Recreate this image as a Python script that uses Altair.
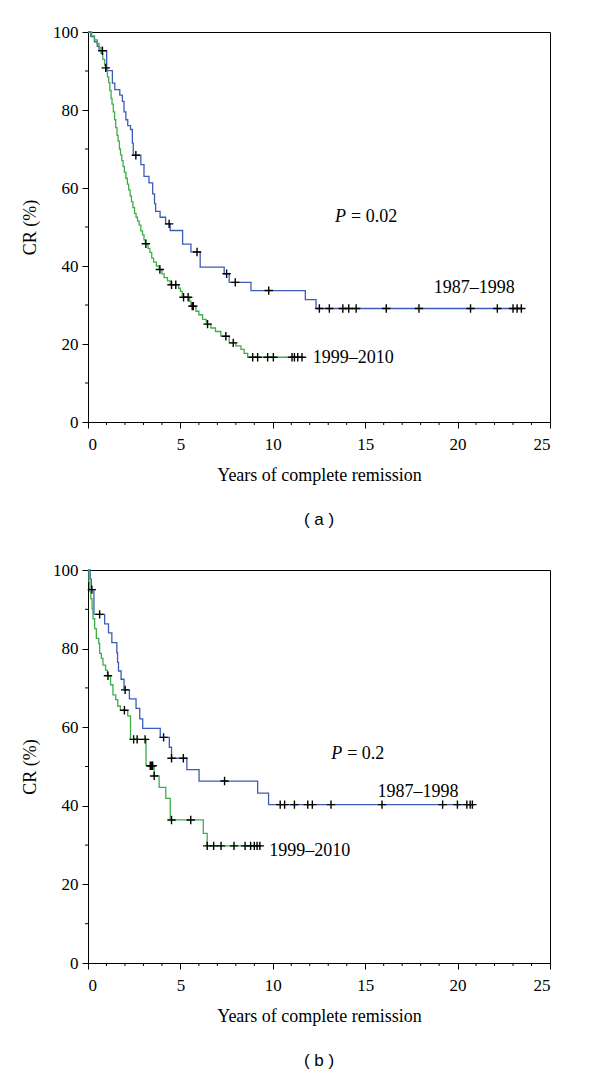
import altair as alt
import pandas as pd

BLUE = "#3e5bb8"
GREEN = "#3fae49"
SERIES = ["1987–1998", "1999–2010"]

# ---------------- Panel (a) ----------------
a_blue_t = [0, 0.15, 0.35, 0.5, 0.6, 1.01, 1.32, 1.45, 1.72, 1.86, 1.95, 2.05, 2.15, 2.3, 2.4, 2.45,
            2.86, 3.03, 3.3, 3.5, 3.6, 3.66, 3.9, 4.2, 4.45, 5.12, 5.57, 6.07, 7.37, 7.64, 8.82,
            11.76, 12.34, 23.45]
a_blue_s = [100, 98.8, 97.5, 96.3, 95.2, 90.1, 86.9, 85.2, 83.8, 82.2, 79.5, 77.5, 76, 75, 71.5, 68.4,
            66, 63, 61.3, 58.5, 56, 54, 52.5, 50.8, 49.1, 45.6, 43.6, 39.7, 38, 35.8, 33.7,
            31.4, 29.1, 29.1]
a_green_t = [0, 0.2, 0.35, 0.5, 0.6, 0.7, 0.8, 0.9, 0.95, 1.05, 1.12, 1.18, 1.25, 1.3, 1.37, 1.44,
             1.5, 1.57, 1.63, 1.7, 1.76, 1.83, 1.9, 1.97, 2.05, 2.13, 2.2, 2.28, 2.35, 2.43, 2.52,
             2.6, 2.68, 2.77, 2.86, 2.95, 3.03, 3.1, 3.25, 3.35, 3.45, 3.55, 3.7, 3.85, 4.0, 4.12,
             4.3, 4.45, 4.9, 5.0, 5.1, 5.5, 5.57, 5.62, 5.84, 6.0, 6.2, 6.4, 6.65, 6.9, 7.19, 7.64,
             8.0, 8.28, 8.45, 8.64, 11.58]
a_green_s = [100, 99, 98, 97, 96, 94.5, 93, 91.5, 90.8, 88.5, 87, 85, 83, 81.5, 79.5, 77.5,
             75.5, 73.5, 72, 70, 68.5, 67, 65.5, 64, 62.5, 61, 59.5, 58, 56.5, 55, 53.5,
             52.5, 51.5, 50.5, 49, 48, 46.7, 45.7, 44.5, 43.5, 42, 41, 40, 39.1, 38, 37,
             36.2, 35.2, 34.3, 33.5, 32.0, 31, 30.1, 29.7, 28.4, 27.5, 26.3, 25.1, 24.1, 23.2, 22.0, 20.3,
             19.5, 18.6, 17.6, 16.6, 16.6]
a_blue_cens_t = [0.78, 2.59, 4.39, 5.9, 7.5, 7.97, 9.78, 12.52, 13.06, 13.79, 14.11, 14.51, 16.14,
                 17.91, 20.7, 22.15, 23.0, 23.22, 23.45]
a_blue_cens_s = [95.2, 68.4, 50.8, 43.6, 38, 35.8, 33.7] + [29.1] * 12
a_green_cens_t = [0.96, 3.13, 3.89, 4.52, 4.75, 5.17, 5.42, 5.64, 5.7, 6.47, 7.46, 7.86, 8.91, 9.18,
                  9.72, 10.03, 11.04, 11.17, 11.35, 11.58]
a_green_cens_s = [90.8, 45.7, 39.1, 35.2, 35.2, 32.0, 32.0, 29.7, 29.7, 25.1, 22.0, 20.3] + [16.6] * 8
a_label_t = [20.9, 14.35]
a_label_s = [34.4, 16.4]
a_p_t = [14.02]
a_p_s = [52.5]
a_p_text = ["= 0.02"]

# ---------------- Panel (b) ----------------
b_blue_t = [0, 0.12, 0.18, 0.32, 0.9, 1.11, 1.29, 1.56, 1.6, 1.65, 1.79, 1.95, 2.24, 2.6, 2.8, 2.96,
            3.91, 4.4, 4.52, 5.35, 6.01, 9.18, 9.77, 20.8]
b_blue_s = [100, 97.7, 95, 88.7, 86.3, 84.0, 81.5, 79.0, 76.5, 74.3, 72.2, 69.5, 67.2, 64.8, 62.1, 59.7,
            57.4, 54.9, 52.1, 49.2, 46.3, 43.2, 40.3, 40.3]
b_green_t = [0, 0.05, 0.1, 0.15, 0.22, 0.27, 0.36, 0.45, 0.58, 0.63, 0.72, 0.81, 0.95, 1.05, 1.22,
             1.35, 1.5, 1.61, 1.75, 2.15, 2.3, 3.14, 3.58, 3.85, 4.21, 4.45, 6.24, 6.45, 9.3]
b_green_s = [100, 97, 94.5, 92.7, 90.2, 87.6, 85.1, 82.6, 81.3, 78.8, 77.5, 75.8, 74.5, 73.1, 70.8,
             68.2, 67, 65.4, 64.3, 62.9, 56.9, 50.2, 47.6, 44.7, 41.9, 36.4, 33.0, 29.8, 29.8]
b_blue_cens_t = [0.21, 0.63, 2.01, 4.09, 4.52, 5.16, 7.39, 10.4, 10.64, 11.17, 11.89, 12.14, 13.15,
                 15.91, 19.19, 19.99, 20.5, 20.68, 20.8]
b_blue_cens_s = [95, 88.7, 69.5, 57.4, 52.1, 52.1, 46.3] + [40.3] * 12
b_green_cens_t = [1.08, 1.97, 2.47, 2.66, 3.09, 3.37, 3.45, 3.5, 3.58, 4.52, 5.56, 6.45, 6.8, 7.2,
                  7.9, 8.5, 8.8, 9.0, 9.15, 9.3]
b_green_cens_s = [73.1, 64.3, 56.9, 56.9, 56.9, 50.2, 50.2, 50.2, 47.6, 36.4, 36.4] + [29.8] * 9
b_label_t = [17.86, 12.0]
b_label_s = [43.5, 28.5]
b_p_t = [13.81]
b_p_s = [53.1]
b_p_text = ["= 0.2"]

# axis ticks
x_major = [0, 5, 10, 15, 20, 25]
x_minor = [i for i in range(1, 25) if i % 5 != 0]
y_major = [0, 20, 40, 60, 80, 100]
y_minor = [10, 30, 50, 70, 90]

PLUS = "M-1,0L1,0M0,-1L0,1"
SERIF = "Liberation Serif"


def X():
    return alt.X("t:Q", scale=alt.Scale(domain=[0, 25], nice=False),
                 axis=alt.Axis(values=x_major, title="Years of complete remission", tickSize=6,
                               labelPadding=8, titlePadding=14, format="d"))


def Y():
    return alt.Y("s:Q", scale=alt.Scale(domain=[0, 100], nice=False),
                 axis=alt.Axis(values=y_major, title="CR (%)", tickSize=6, labelPadding=4,
                               titlePadding=13, format="d"))


def panel(bt, bs, gt, gs, cbt, cbs, cgt, cgs, lt, ls, pt, ps, ptext, width, height, tag):
    curves = pd.DataFrame({
        "t": bt + gt,
        "s": bs + gs,
        "grp": [SERIES[0]] * len(bt) + [SERIES[1]] * len(gt),
    })
    cens = pd.DataFrame({"t": cbt + cgt, "s": cbs + cgs})
    labels = pd.DataFrame({"t": lt, "s": ls, "label": SERIES})
    pdf = pd.DataFrame({"t": pt, "s": ps, "rest": ptext, "p": ["P"] * len(pt)})
    ymin = pd.DataFrame({"s": y_minor})
    xmin = pd.DataFrame({"t": x_minor})

    lines = alt.Chart(curves).mark_line(interpolate="step-after", strokeWidth=1.3).encode(
        x=X(), y=Y(),
        color=alt.Color("grp:N", scale=alt.Scale(domain=SERIES, range=[BLUE, GREEN]), legend=None),
    )
    marks = alt.Chart(cens).mark_point(shape=PLUS, size=70, filled=False, color="black",
                                       strokeWidth=1.4, opacity=1).encode(x=X(), y=Y())
    ytk = alt.Chart(ymin).mark_rule(color="black", strokeWidth=1).encode(
        y=Y(), x=alt.value(-3), x2=alt.value(0))
    xtk = alt.Chart(xmin).mark_rule(color="black", strokeWidth=1).encode(
        x=X(), y=alt.value(height), y2=alt.value(height + 3))
    txt = alt.Chart(labels).mark_text(font=SERIF, fontSize=18, color="black", align="center",
                                      baseline="middle").encode(x=X(), y=Y(), text="label:N")
    ptxt = alt.Chart(pdf).mark_text(font=SERIF, fontSize=18, fontStyle="italic", color="black",
                                    align="right", baseline="middle", dx=-1).encode(
        x=X(), y=Y(), text="p:N")
    rtxt = alt.Chart(pdf).mark_text(font=SERIF, fontSize=18, color="black", align="left",
                                    baseline="middle", dx=4).encode(
        x=X(), y=Y(), text="rest:N")
    return alt.layer(lines, marks, ytk, xtk, txt, ptxt, rtxt).properties(
        width=width, height=height,
        title=alt.TitleParams(tag, orient="bottom", font="Liberation Sans", fontSize=17,
                              fontWeight="normal", color="black", offset=28),
    )


pa = panel(a_blue_t, a_blue_s, a_green_t, a_green_s, a_blue_cens_t, a_blue_cens_s,
           a_green_cens_t, a_green_cens_s, a_label_t, a_label_s, a_p_t, a_p_s, a_p_text,
           462, 390, "( a )")
pb = panel(b_blue_t, b_blue_s, b_green_t, b_green_s, b_blue_cens_t, b_blue_cens_s,
           b_green_cens_t, b_green_cens_s, b_label_t, b_label_s, b_p_t, b_p_s, b_p_text,
           462, 393, "( b )")

chart = alt.vconcat(pa, pb, spacing=31).properties(
    padding={"left": 13, "top": 14, "right": 5, "bottom": 5}
).configure_view(stroke="black", strokeWidth=1).configure_axis(
    domainColor="black", tickColor="black", labelColor="black", titleColor="black",
    labelFont=SERIF, titleFont=SERIF, labelFontSize=17, titleFontSize=18,
    titleFontWeight="normal", grid=False, domainWidth=1, tickWidth=1,
)

chart.save("out.html", embed_options={"renderer": "svg", "actions": False})
